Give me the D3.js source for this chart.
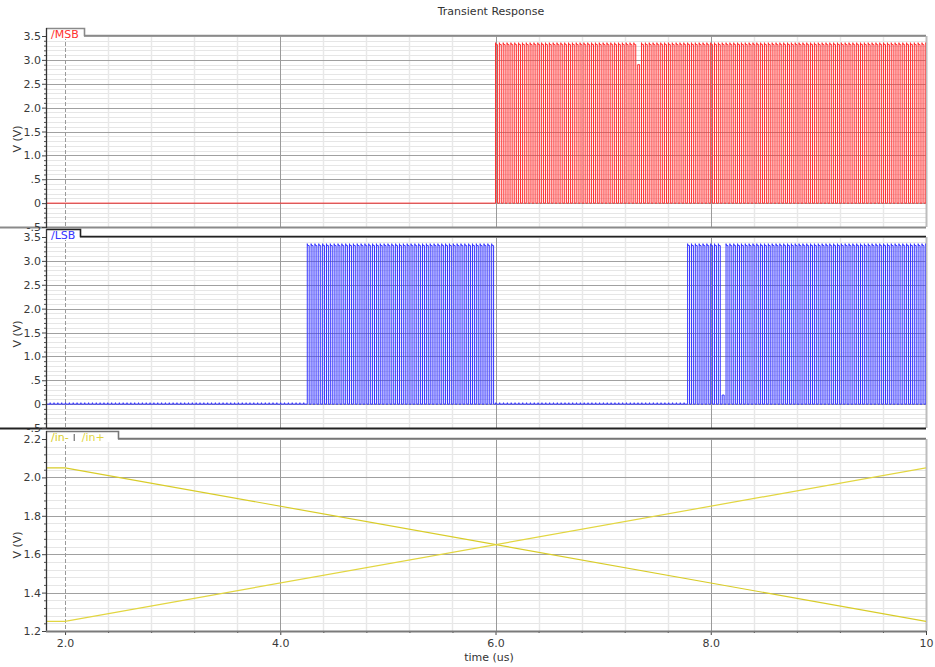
<!DOCTYPE html>
<html><head><meta charset="utf-8">
<script src="https://cdn.jsdelivr.net/npm/d3@7"></script>
<style>
body{margin:0;background:#fff}
svg{display:block}
text{font-family:"DejaVu Sans",sans-serif}
</style>
</head><body>
<svg id="c" width="935" height="667"></svg>
<script>
// ---------------- data ----------------
const title = "Transient Response";
const xLabel = "time (us)";
const yLabel = "V (V)";
const xDomain = [1.823, 10];
const xTickValues = [2, 4, 6, 8, 10];
const xTickLabels = ["2.0", "4.0", "6.0", "8.0", "10"];
const xMinorStep = 0.4;

const digitalDomain = [-0.5, 3.5];
const digitalTicks = [3.5, 3.0, 2.5, 2.0, 1.5, 1.0, 0.5, 0, -0.5];
const digitalTickLabels = ["3.5", "3.0", "2.5", "2.0", "1.5", "1.0", ".5", "0", "-.5"];
const digitalMinorStep = 0.1;

const analogDomain = [1.2, 2.2];
const analogTicks = [2.2, 2.0, 1.8, 1.6, 1.4, 1.2];
const analogTickLabels = ["2.2", "2.0", "1.8", "1.6", "1.4", "1.2"];
const analogMinorStep = 0.04;

// clocked comparator outputs (return to zero every clock cycle)
const clockPeriod = 0.0357;     // us, read from the pulse spacing
const clockRef = 6.0;           // a clock edge (MSB starts here)
const highLevel = 3.32;
const overshootLevel = 3.36;
const dutyCycle = 0.5;
const msbHighWindows = [[6.0, 10.0]];
const lsbHighWindows = [[4.25, 6.0], [7.785, 10.0]];
const msbGlitches = [[7.31, 2.9]];                 // [time, pulse peak]
const lsbGlitches = [[8.09, 0.19]];
const lsbKick = 0.03;

const inMinusT = [1.823, 2.0, 10.0];
const inMinusV = [2.05, 2.05, 1.25];
const inPlusT = [1.823, 2.0, 10.0];
const inPlusV = [1.25, 1.25, 2.05];

const colMSB = "#ff3030", colLSB = "#3434ff", colInM = "#d8cc28", colInP = "#e2d640";

// ---------------- layout ----------------
const L = 46, R = 926;
const panels = [
  {top: 36, bottom: 227, tabTop: 28, tabRight: 84, frame: "#8a8a8a", bottomFrame: "#8a8a8a", labelY: 139,
   domain: digitalDomain, ticks: digitalTicks, labels: digitalTickLabels, minor: digitalMinorStep},
  {top: 237, bottom: 428, tabTop: 229, tabRight: 80, frame: "#222", bottomFrame: "#222", labelY: 334,
   domain: digitalDomain, ticks: digitalTicks, labels: digitalTickLabels, minor: digitalMinorStep},
  {top: 439, bottom: 631, tabTop: 431, tabRight: 118, frame: "#777", bottomFrame: "#777", labelY: 545,
   domain: analogDomain, ticks: analogTicks, labels: analogTickLabels, minor: analogMinorStep}
];

const svg = d3.select("#c");
const x = d3.scaleLinear().domain(xDomain).range([L, R]);
const xMinor = d3.range(2, 10.0001, xMinorStep).map(v => +v.toFixed(3)).filter(v => !xTickValues.some(t => Math.abs(t - v) < 1e-6));
xMinor.unshift(1.6);

function pulsePoints(windows, glitches, kick, t0, t1) {
  const pts = [[t0, 0]];
  const k0 = Math.ceil((t0 - clockRef) / clockPeriod), k1 = Math.floor((t1 - clockRef) / clockPeriod);
  for (let k = k0; k <= k1; k++) {
    const t = clockRef + k * clockPeriod;
    const high = windows.some(w => t >= w[0] - 1e-6 && t < w[1] - 1e-6);
    const g = glitches.find(g => Math.abs(g[0] - t) < clockPeriod / 2);
    if (high) {
      const peak = g ? g[1] : highLevel;
      const tf = t + dutyCycle * clockPeriod;
      pts.push([t, 0], [t, g ? peak : overshootLevel], [t + 0.004, peak], [tf, peak], [tf, 0]);
    } else if (kick) {
      pts.push([t, 0], [t + 0.003, kick], [t + 0.006, 0]);
    }
  }
  pts.push([t1, 0]);
  return pts;
}

const defs = svg.append("defs");

panels.forEach((p, i) => {
  const y = d3.scaleLinear().domain(p.domain).range([p.bottom, p.top]);
  p.y = y;
  const g = svg.append("g");
  const yMinor = d3.range(p.domain[0], p.domain[1] + 1e-9, p.minor).map(v => +v.toFixed(4))
    .filter(v => !p.ticks.some(t => Math.abs(t - v) < 1e-6));
  g.append("g").selectAll("line").data(yMinor).join("line")
    .attr("x1", L).attr("x2", R).attr("y1", d => Math.round(y(d)) + 0.5).attr("y2", d => Math.round(y(d)) + 0.5)
    .attr("stroke", "#e6e6e6").attr("stroke-width", 1);
  g.append("g").selectAll("line").data(xMinor.filter(v => v > xDomain[0])).join("line")
    .attr("x1", d => Math.round(x(d)) + 0.5).attr("x2", d => Math.round(x(d)) + 0.5)
    .attr("y1", p.top).attr("y2", p.bottom).attr("stroke", "#e8e8e8").attr("stroke-width", 1.5);
  g.append("g").selectAll("line").data(p.ticks).join("line")
    .attr("x1", L).attr("x2", R).attr("y1", d => Math.round(y(d)) + 0.5).attr("y2", d => Math.round(y(d)) + 0.5)
    .attr("stroke", "#a0a0a0").attr("stroke-width", 1);
  g.append("g").selectAll("line").data(xTickValues).join("line")
    .attr("x1", d => Math.round(x(d)) + 0.5).attr("x2", d => Math.round(x(d)) + 0.5)
    .attr("y1", p.top).attr("y2", p.bottom)
    .attr("stroke", (d) => d === 10 ? "#bdbdbd" : "#9a9a9a")
    .attr("stroke-width", d => d === 10 ? 2 : 1)
    .attr("stroke-dasharray", d => d === 2 ? "4,2" : null);

  defs.append("clipPath").attr("id", "clip" + i).append("rect")
    .attr("x", L).attr("y", p.top - 12).attr("width", R - L).attr("height", p.bottom - p.top + 12);
});

// ---------------- signals ----------------
const line = (y) => d3.line().x(d => x(d[0])).y(d => y(d[1]));
svg.append("path").attr("clip-path", "url(#clip0)")
  .attr("d", line(panels[0].y)(pulsePoints(msbHighWindows, msbGlitches, 0, xDomain[0], 10.05)))
  .attr("fill", "none").attr("stroke", colMSB).attr("stroke-width", 1);
svg.append("path").attr("clip-path", "url(#clip1)")
  .attr("d", line(panels[1].y)(pulsePoints(lsbHighWindows, lsbGlitches, lsbKick, xDomain[0], 10.05)))
  .attr("fill", "none").attr("stroke", colLSB).attr("stroke-width", 1);
const inM = inMinusT.map((t, i) => [t, inMinusV[i]]);
const inP = inPlusT.map((t, i) => [t, inPlusV[i]]);
svg.append("path").attr("clip-path", "url(#clip2)").attr("d", line(panels[2].y)(inM))
  .attr("fill", "none").attr("stroke", colInM).attr("stroke-width", 1.2);
svg.append("path").attr("clip-path", "url(#clip2)").attr("d", line(panels[2].y)(inP))
  .attr("fill", "none").attr("stroke", colInP).attr("stroke-width", 1.2);

// ---------------- frames, tabs, axes ----------------
const tabText = [[["/MSB", colMSB]], [["/LSB", colLSB]], [["/in-", colInM], ["/in+", colInP]]];
panels.forEach((p, i) => {
  const g = svg.append("g");
  if (i < 2) g.append("line").attr("x1", 0).attr("x2", R).attr("y1", p.bottom + 0.5).attr("y2", p.bottom + 0.5)
    .attr("stroke", p.bottomFrame).attr("stroke-width", 2);
  // tab
  g.append("rect").attr("x", L + 1).attr("y", p.tabTop).attr("width", p.tabRight - L - 1).attr("height", p.top - p.tabTop + 3)
    .attr("fill", "#fff");
  g.append("path").attr("d", `M${L},${p.tabTop + 0.5}H${p.tabRight + 0.5}V${p.top - 0.5}H${R}`)
    .attr("fill", "none").attr("stroke", p.frame).attr("stroke-width", 1.6);
  let tx = L + 5;
  tabText[i].forEach(([t, c], j) => {
    if (j > 0) {
      g.append("path").attr("d", `M${tx + 0.5},${p.tabTop + 3}V${p.top + 2}`).attr("stroke", "#555").attr("stroke-width", 1);
      tx += 8;
    }
    const tn = g.append("text").attr("x", tx).attr("y", p.top + 1.5).attr("font-size", 11).attr("fill", c).text(t);
    tx += tn.node().getComputedTextLength() + 5;
  });
  // y axis
  const ax = g.append("g").attr("transform", `translate(${L},0)`)
    .call(d3.axisLeft(p.y).tickValues(p.ticks).tickFormat((d, k) => p.labels[k]).tickSize(4).tickPadding(1));
  ax.select(".domain").remove();
  ax.selectAll("line").attr("stroke", "#444");
  ax.selectAll("text").attr("font-size", 11).attr("fill", "#3a3a3a").attr("font-family", "DejaVu Sans");
  const yMinor = d3.range(p.domain[0], p.domain[1] + 1e-9, p.minor).map(v => +v.toFixed(4))
    .filter(v => !p.ticks.some(t => Math.abs(t - v) < 1e-6));
  const axm = g.append("g").attr("transform", `translate(${L},0)`)
    .call(d3.axisLeft(p.y).tickValues(yMinor).tickFormat("").tickSize(2));
  axm.select(".domain").remove();
  axm.selectAll("line").attr("stroke", "#555");
  g.append("line").attr("x1", L + 0.5).attr("x2", L + 0.5).attr("y1", p.tabTop).attr("y2", p.bottom + 1)
    .attr("stroke", "#333").attr("stroke-width", 1.3);
  g.append("text").attr("transform", `translate(21,${p.labelY}) rotate(-90)`).attr("text-anchor", "middle")
    .attr("font-size", 11).attr("fill", "#333").text(yLabel);
});

// x axis
const xb = panels[2].bottom;
const xa = svg.append("g").attr("transform", `translate(0,${xb})`)
  .call(d3.axisBottom(x).tickValues(xTickValues).tickFormat((d, i) => xTickLabels[i]).tickSize(4).tickPadding(4));
xa.select(".domain").remove();
xa.selectAll("line").attr("stroke", "#444");
xa.selectAll("text").attr("font-size", 11).attr("fill", "#3a3a3a").attr("font-family", "DejaVu Sans");
const xam = svg.append("g").attr("transform", `translate(0,${xb})`)
  .call(d3.axisBottom(x).tickValues(xMinor.filter(v => v > xDomain[0])).tickFormat("").tickSize(2));
xam.select(".domain").remove();
xam.selectAll("line").attr("stroke", "#444");
svg.append("line").attr("x1", L).attr("x2", R).attr("y1", xb + 0.5).attr("y2", xb + 0.5)
  .attr("stroke", "#7a7a7a").attr("stroke-width", 2);

svg.append("text").attr("x", 491).attr("y", 15).attr("text-anchor", "middle")
  .attr("font-size", 11).attr("fill", "#333").text(title);
svg.append("text").attr("x", 489).attr("y", 661).attr("text-anchor", "middle")
  .attr("font-size", 11).attr("fill", "#333").text(xLabel);
</script>
</body></html>
